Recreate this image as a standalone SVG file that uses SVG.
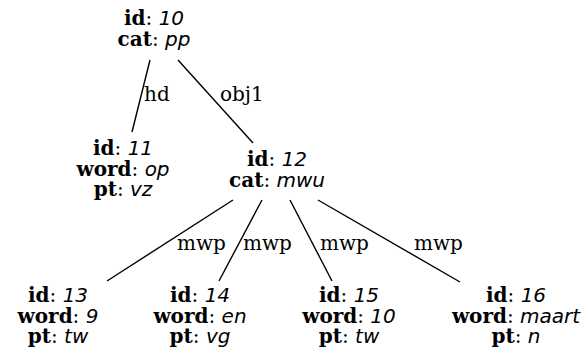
<svg xmlns="http://www.w3.org/2000/svg" width="588" height="352" viewBox="0 0 588 352">
  <style>
    text { font-family: "DejaVu Serif", serif; font-size: 20px; fill: #000; }
    .node text { text-anchor: middle; }
    .k { font-weight: bold; }
    .v { font-family: "DejaVu Sans", sans-serif; font-style: italic; }
    .edges line { stroke: #000; stroke-width: 1.4; }
  </style>
  <rect width="588" height="352" fill="#fff"/>

  <!-- connectors with their relation labels -->
  <g class="edges">
    <line x1="150" y1="60" x2="132" y2="132"/>
    <text x="144" y="101">hd</text>
    <line x1="178" y1="60" x2="253" y2="143"/>
    <text x="220" y="101">obj1</text>
    <line x1="233" y1="200" x2="107" y2="281"/>
    <text x="177" y="250">mwp</text>
    <line x1="262" y1="200" x2="219" y2="281"/>
    <text x="243" y="250">mwp</text>
    <line x1="290" y1="200" x2="332" y2="281"/>
    <text x="320" y="250">mwp</text>
    <line x1="318" y1="200" x2="460" y2="282"/>
    <text x="414" y="250">mwp</text>
  </g>

  <g id="n10" class="node">
    <text x="154" y="25"><tspan class="k">id</tspan>: <tspan class="v">10</tspan></text>
    <text x="154" y="45.5"><tspan class="k">cat</tspan>: <tspan class="v">pp</tspan></text>
  </g>
  <g id="n11" class="node">
    <text x="123" y="155"><tspan class="k">id</tspan>: <tspan class="v">11</tspan></text>
    <text x="123" y="175.5"><tspan class="k">word</tspan>: <tspan class="v">op</tspan></text>
    <text x="123" y="196"><tspan class="k">pt</tspan>: <tspan class="v">vz</tspan></text>
  </g>
  <g id="n12" class="node">
    <text x="277" y="166"><tspan class="k">id</tspan>: <tspan class="v">12</tspan></text>
    <text x="277" y="186.5"><tspan class="k">cat</tspan>: <tspan class="v">mwu</tspan></text>
  </g>
  <g id="n13" class="node">
    <text x="58" y="302"><tspan class="k">id</tspan>: <tspan class="v">13</tspan></text>
    <text x="58" y="322.5"><tspan class="k">word</tspan>: <tspan class="v">9</tspan></text>
    <text x="58" y="343"><tspan class="k">pt</tspan>: <tspan class="v">tw</tspan></text>
  </g>
  <g id="n14" class="node">
    <text x="200" y="302"><tspan class="k">id</tspan>: <tspan class="v">14</tspan></text>
    <text x="200" y="322.5"><tspan class="k">word</tspan>: <tspan class="v">en</tspan></text>
    <text x="200" y="343"><tspan class="k">pt</tspan>: <tspan class="v">vg</tspan></text>
  </g>
  <g id="n15" class="node">
    <text x="349" y="302"><tspan class="k">id</tspan>: <tspan class="v">15</tspan></text>
    <text x="349" y="322.5"><tspan class="k">word</tspan>: <tspan class="v">10</tspan></text>
    <text x="349" y="343"><tspan class="k">pt</tspan>: <tspan class="v">tw</tspan></text>
  </g>
  <g id="n16" class="node">
    <text x="516" y="302"><tspan class="k">id</tspan>: <tspan class="v">16</tspan></text>
    <text x="516" y="322.5"><tspan class="k">word</tspan>: <tspan class="v">maart</tspan></text>
    <text x="516" y="343"><tspan class="k">pt</tspan>: <tspan class="v">n</tspan></text>
  </g>
</svg>
